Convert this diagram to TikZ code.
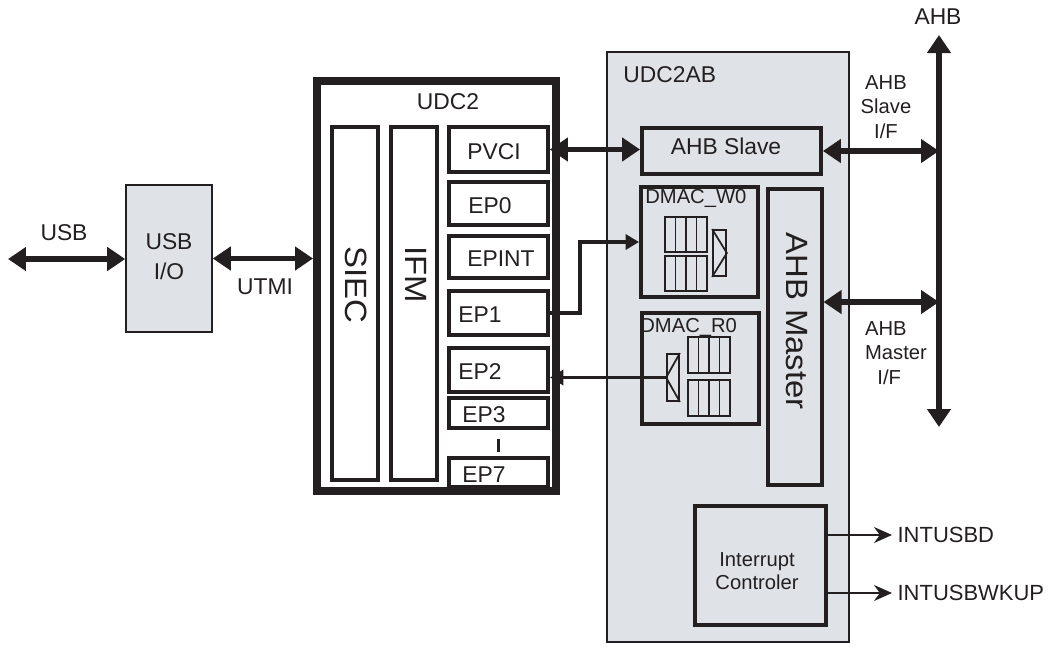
\documentclass[tikz,border=0pt]{standalone}
\usepackage{fontspec}
\setmainfont{Liberation Sans}
\usetikzlibrary{arrows.meta,fit,calc,positioning}

\definecolor{ink}{RGB}{35,31,32}
\definecolor{panelgray}{RGB}{223,226,231}

\tikzset{
  blk/.style={draw=ink, line width=2.2pt, inner sep=0pt},
  thinblk/.style={draw=ink, line width=0.9pt, inner sep=0pt, fill=panelgray},
  fifo/.style={draw=ink, line width=1pt, inner sep=0pt},
  txt/.style={font=\fontsize{13}{16}\selectfont, text=ink, inner sep=0pt},
  lbl/.style={font=\fontsize{11.5}{13.8}\selectfont, text=ink, inner sep=0pt},
  vlbl/.style={font=\fontsize{17.5}{20}\selectfont, text=ink, inner sep=0pt, rotate=-90},
  bus/.style={draw=ink, line width=3.4pt,
    {Triangle[length=0.36cm,width=0.46cm]}-{Triangle[length=0.36cm,width=0.46cm]}},
  link/.style={draw=ink, line width=2pt, -{Triangle[length=0.27cm,width=0.3cm]}},
  sig/.style={draw=ink, line width=0.9pt, -{Stealth[length=0.36cm,width=0.32cm]}}
}

\begin{document}
\begin{tikzpicture}[x=0.02cm, y=-0.02cm]
\useasboundingbox (0,0) rectangle (1063,653);

% UDC2AB panel
\node[thinblk, fit={(607,52) (849,642)}] (ab) {};
\node[txt, anchor=west] (abtxt) at (623,75) {UDC2AB};

% USB I/O
\node[thinblk, fit={(126,185) (212,332)}] (usbio) {};
\node[txt, align=center, font=\fontsize{13}{17}\selectfont] (usbiotxt) at (169,257) {USB\\I/O};

% UDC2
\node[blk, line width=4.5pt, fit={(317,81) (556,491)}] (udc) {};
\node[txt] (udctxt) at (448,102) {UDC2};
\node[blk, fit={(332,127) (378,480)}] (siec) {};
\node[blk, fit={(391,127) (437,480)}] (ifm) {};
\node[vlbl] (siectxt) at (356,285) {\scalebox{1.07}[1]{SIEC}};
\node[vlbl] (ifmtxt) at (416,275) {\scalebox{1.07}[1]{IFM}};

% endpoints
\foreach \name/\top/\bot in {pvci/127/172, ep0/182/225, epint/236/278, ep1/291/335,
                             ep2/348/392, ep3/398/428, ep7/458/487}
  \node[blk, fit={(449,\top) (548,\bot)}] (\name) {};
\foreach \name/\lab/\dx in {pvci/PVCI/20, ep0/EP0/21, epint/EPINT/20, ep1/EP1/11,
                            ep2/EP2/11, ep3/EP3/15, ep7/EP7/15}
  \node[txt, anchor=west] (\name-t) at ($(\name.west)+(\dx,2)$) {\lab};
\draw[ink, line width=2.2pt] ($(ep3.south)!0.35!(ep7.north)$) -- ($(ep3.south)!0.85!(ep7.north)$);

% DMAC_W0
\node[blk, fit={(641,187) (758,297)}] (dmacw) {};
\node[lbl, anchor=west] (dmacwtxt) at (645,198) {DMAC\_W0};
\foreach \r in {217,256}
  \foreach \c in {0,...,3}
    \draw[fifo] (665+\c*10.5,\r) rectangle ++(10.5,35);
\node[fifo, fit={(713,230) (726,276)}] (muxw) {};
\draw[fifo] (muxw.north west) -- (muxw.east) -- (muxw.south west);

% DMAC_R0
\node[lbl, anchor=west] (dmacrtxt) at (640,327) {DMAC\_R0};
\node[blk, fit={(642,313) (759,424)}] (dmacr) {};
\foreach \r in {337,380}
  \foreach \c in {0,...,3}
    \draw[fifo] (688+\c*10.5,\r) rectangle ++(10.5,36);
\node[fifo, fit={(667,354) (679,401)}] (muxr) {};
\draw[fifo] (muxr.north east) -- (muxr.west) -- (muxr.south east);

% AHB Slave / AHB Master
\node[blk, fit={(642,128) (821,174)}] (slave) {};
\node[txt] (slavetxt) at (726,146) {AHB Slave};
\node[blk, line width=1.8pt, fit={(768,189) (822,485)}] (master) {};
\node[vlbl] (mastertxt) at (797,321) {\scalebox{1.07}[1]{AHB Master}};

% Interrupt controller
\node[blk, line width=1.8pt, fit={(695,506) (826,625)}] (intc) {};
\node[lbl, align=center, font=\fontsize{11.5}{12.8}\selectfont] (intctxt) at (757,571) {Interrupt\\Controler};

% AHB bus
\coordinate (bustop) at (939,35);
\coordinate (busbot) at (939,427);
\node[txt] (ahb) at (938,17) {AHB};
\draw[bus] (busbot) -- (bustop);
\draw[bus] (slave.east) -- (slave.east -| bustop);
\coordinate (mport) at ([yshift=0.7cm]master.east);
\draw[bus] (mport) -- (mport -| bustop);
\node[lbl, align=center] (slaveif) at (886,107) {AHB\\Slave\\I/F};
\node[lbl, align=left] (masterif) at (896,353) {AHB\\Master\\\hspace*{7pt}I/F};

% USB side
\coordinate (usbend) at (8,259);
\draw[bus] (usbend) -- (usbend -| usbio.west);
\node[txt] (usb) at (64,233) {USB};
\draw[bus] (usbio.east) -- (usbio.east -| udc.west);
\node[txt] (utmi) at (265,287) {UTMI};

% UDC2 <-> UDC2AB
\draw[bus] (pvci.east) -- (pvci.east -| slave.west);
\draw[link] (ep1.east) -- ++(30,0) |- (dmacw.west);
\draw[link] (muxr.west) -- (muxr.west -| ep2.east);

% interrupts
\node[txt, anchor=west, inner sep=3pt, font=\fontsize{12.5}{15}\selectfont] (intusbd) at (892,535) {INTUSBD};
\node[txt, anchor=west, inner sep=3pt, font=\fontsize{12.5}{15}\selectfont] (intwk) at (892,593) {INTUSBWKUP};
\draw[sig] (intc.east |- intusbd.west) -- (intusbd.west);
\draw[sig] (intc.east |- intwk.west) -- (intwk.west);
\end{tikzpicture}
\end{document}
